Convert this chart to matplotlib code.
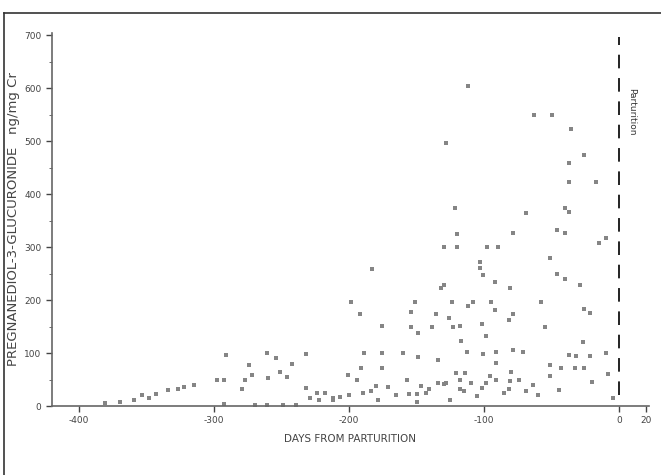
import matplotlib
matplotlib.use("Agg")
import matplotlib.pyplot as plt
from matplotlib.lines import Line2D

# Days from parturition
days = [
    -112, -63, -50, -128, -36, -26, -37, -37, -17,
    -122, -69, -40, -37, -46, -40, -79, -120, -130, -120, -98, -90, -10, -15,
    -51, -103, -103, -101, -183, -46, -40, -29, -92, -130, -132, -81,
    -199, -151, -124, -108, -95, -58, -112, -154, -92, -192, -136, -79, -26, -22,
    -176, -126, -154, -139, -123, -118, -102, -82, -55, -149,
    -99, -27, -117, -189, -176, -160, -149, -134, -113, -101, -91, -79, -71,
    -37, -32, -22, -10, -91, -51, -43, -33, -26, -191, -176, -201, -121, -114,
    -80, -96, -194, -157, -134, -128, -118, -110, -99, -91, -81, -74, -64, -51,
    -180, -171, -147, -141, -130, -118, -102, -82, -69, -115, -184, -190, -200,
    -207, -212, -179, -165, -156, -150, -143,
    -291, -274, -261, -254, -242, -232, -272, -277, -260, -251, -246, -279,
    -293, -298, -315, -322, -327, -334, -343, -348, -353, -359, -370, -381,
    -232, -224, -218, -229, -222, -212, -270, -261, -249, -239, -293,
    -60, -45, -20, -8, -5, -150, -125, -105, -85,
]
# Pregnanediol-3-glucuronide (ng/mg Cr)
values = [
    604, 549, 549, 496, 523, 473, 458, 423, 423,
    373, 364, 373, 366, 332, 326, 326, 324, 300, 300, 300, 300, 317, 307,
    279, 272, 260, 247, 258, 249, 240, 228, 234, 228, 222, 222,
    196, 196, 196, 196, 196, 196, 189, 178, 181, 173, 173, 173, 183, 175,
    151, 166, 149, 149, 149, 151, 155, 162, 149, 138,
    132, 121, 123, 100, 100, 100, 93, 87, 102, 98, 102, 106, 102,
    96, 94, 94, 100, 81, 77, 72, 72, 72, 72, 72, 58, 62, 62,
    64, 57, 49, 49, 43, 43, 49, 43, 43, 49, 47, 49, 40, 57,
    38, 36, 38, 32, 42, 32, 34, 32, 28, 28, 28, 24, 21,
    17, 15, 11, 21, 23, 23, 24,
    96, 77, 100, 90, 79, 98, 58, 49, 53, 64, 55, 32,
    49, 49, 40, 36, 32, 30, 23, 15, 21, 11, 8, 6,
    34, 24, 24, 15, 11, 11, 2, 2, 2, 2, 4,
    20, 30, 45, 60, 15, 8, 12, 18, 25,
]

x_ticks = [-400, -300, -200, -100, 0, 20]
x_ticklabels = ["-400", "-300", "-200", "-100", "0", "20"]
y_ticks = [0, 100, 200, 300, 400, 500, 600, 700]

fig = plt.figure(figsize=(6.61, 4.75), dpi=100)
ax = fig.add_axes([52/661, 69/475, (649-52)/661, (406-33)/475])

ax.scatter(days, values, marker='s', s=5, color='#858585', linewidths=0)
ax.axvline(0, ymin=0.03, ymax=0.99, color='#222222', lw=1.4, dashes=(7, 5))
ax.text(6, 555, "Parturition", rotation=-90, fontsize=6.5, color='#333333',
        ha='left', va='center')

ax.set_xlim(-420, 22)
ax.set_ylim(0, 704)
ax.set_xticks(x_ticks)
ax.set_xticklabels(x_ticklabels)
ax.set_yticks(y_ticks)
ax.set_yticks(range(50, 700, 100), minor=True)
for s in ['top', 'right']:
    ax.spines[s].set_visible(False)
for s in ['left', 'bottom']:
    ax.spines[s].set_color('#666666')
    ax.spines[s].set_linewidth(1.2)
ax.tick_params(axis='both', labelsize=6.5, colors='#444444', length=4, width=1)
ax.tick_params(axis='y', which='minor', length=2, color='#555555')
ax.set_xlabel("DAYS FROM PARTURITION", fontsize=7.5, color='#444444', labelpad=6)
ax.set_ylabel("PREGNANEDIOL-3-GLUCURONIDE   ng/mg Cr", fontsize=9.5, color='#444444',
              labelpad=3)

# Scanned page frame
fig.add_artist(Line2D([4/661, 1.0], [1 - 13/475, 1 - 13/475], color='#333333', lw=1.2))
fig.add_artist(Line2D([4/661, 4/661], [0, 1 - 13/475], color='#333333', lw=1.2))

fig.savefig("out.png", dpi=100)
